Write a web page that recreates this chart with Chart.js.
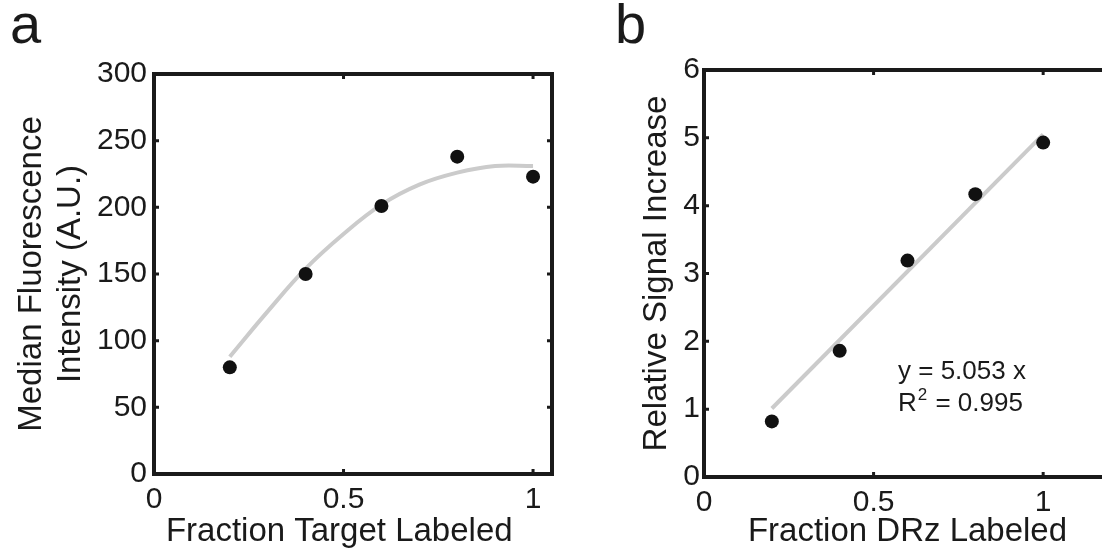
<!DOCTYPE html>
<html>
<head>
<meta charset="utf-8">
<script src="https://cdn.jsdelivr.net/npm/chart.js@4/dist/chart.umd.min.js"></script>
<style>
    html, body { margin: 0; padding: 0; background: #fff; overflow: hidden; }
    .panel { position: absolute; top: 0; }
</style>
</head>
<body>
<div class="panel" style="left:0px"><canvas id="chartA" width="570" height="550"></canvas></div>
<div class="panel" style="left:600px"><canvas id="chartB" width="520" height="550"></canvas></div>
<script>
// panel a
const fractionTarget = [0.2, 0.4, 0.6, 0.8, 1.0];
const medianIntensity = [80, 150, 201, 238, 223];
const fitTargetX = [0.2, 0.3, 0.4, 0.5, 0.6, 0.7, 0.8, 0.9, 1.0];
const fitTargetY = [88, 122, 154, 180, 202, 217, 226, 231, 231];
const xTicksA = [0, 0.5, 1];
const yTicksA = [0, 50, 100, 150, 200, 250, 300];

// panel b
const fractionDRz = [0.2, 0.4, 0.6, 0.8, 1.0];
const signalIncrease = [0.82, 1.86, 3.19, 4.17, 4.93];
const fitDRzX = [0.2, 1.0];
const fitDRzY = [1.01, 5.05];
const xTicksB = [0, 0.5, 1];
const yTicksB = [0, 1, 2, 3, 4, 5, 6];

const INK = "#1a1a1a";
const FONT = "'Liberation Sans', Arial, sans-serif";

const toXY = (xs, ys) => xs.map((x, i) => ({x: x, y: ys[i]}));

// box around the plot with small inward ticks on all four sides
const framePlugin = {
    id: "frame",
    afterDatasetsDraw(chart) {
        const {ctx, chartArea: a, scales} = chart;
        ctx.save();
        ctx.strokeStyle = INK;
        ctx.lineWidth = 3;
        scales.x.ticks.forEach(t => {
            const px = scales.x.getPixelForValue(t.value);
            ctx.beginPath();
            ctx.moveTo(px, a.bottom); ctx.lineTo(px, a.bottom - 5);
            ctx.moveTo(px, a.top); ctx.lineTo(px, a.top + 5);
            ctx.stroke();
        });
        scales.y.ticks.forEach(t => {
            const py = scales.y.getPixelForValue(t.value);
            ctx.beginPath();
            ctx.moveTo(a.left, py); ctx.lineTo(a.left + 5, py);
            ctx.moveTo(a.right, py); ctx.lineTo(a.right - 5, py);
            ctx.stroke();
        });
        ctx.lineWidth = 4;
        ctx.strokeRect(a.left, a.top, a.right - a.left, a.bottom - a.top);
        ctx.restore();
    }
};

const letterPlugin = {
    id: "letter",
    afterDraw(chart, args, opts) {
        const ctx = chart.ctx;
        ctx.save();
        ctx.fillStyle = INK;
        ctx.font = "56px " + FONT;
        ctx.textBaseline = "alphabetic";
        ctx.fillText(opts.text, opts.x, opts.y);
        ctx.restore();
    }
};

const fitNote = {
    id: "fitNote",
    afterDatasetsDraw(chart) {
        const {ctx, scales} = chart;
        const x = scales.x.getPixelForValue(0.572);
        const y1 = scales.y.getPixelForValue(1.45);
        const y2 = scales.y.getPixelForValue(0.98);
        ctx.save();
        ctx.fillStyle = INK;
        ctx.textBaseline = "alphabetic";
        ctx.font = "26px " + FONT;
        ctx.fillText("y = 5.053 x", x, y1);
        ctx.fillText("R", x, y2);
        const rw = ctx.measureText("R").width;
        ctx.font = "17px " + FONT;
        ctx.fillText("2", x + rw + 1, y2 - 11);
        const sw = ctx.measureText("2").width;
        ctx.font = "26px " + FONT;
        ctx.fillText(" = 0.995", x + rw + sw + 2, y2);
        ctx.restore();
    }
};

function fixedTicks(values) {
    return scale => { scale.ticks = values.map(v => ({value: v})); };
}

function makeScales(o) {
    return {
        x: {
            type: "linear",
            position: "bottom",
            min: 0,
            max: o.xMax,
            afterBuildTicks: fixedTicks(o.xTicks),
            afterFit: s => { s.height = o.xHeight; s.paddingLeft = 0; s.paddingRight = 0; },
            grid: { display: false, drawTicks: false },
            border: { display: false },
            ticks: {
                color: INK,
                padding: 8,
                maxRotation: 0,
                font: { family: FONT, size: 30 },
                callback: v => String(v)
            },
            title: {
                display: true,
                text: o.xTitle,
                color: INK,
                padding: { top: 0, bottom: -2 },
                font: { family: FONT, size: 33, lineHeight: 1.2 }
            }
        },
        y: {
            type: "linear",
            min: 0,
            max: o.yMax,
            afterBuildTicks: fixedTicks(o.yTicks),
            afterFit: s => { s.width = o.yWidth; s.paddingTop = 0; s.paddingBottom = 0; },
            grid: { display: false, drawTicks: false },
            border: { display: false },
            ticks: {
                color: INK,
                padding: o.yPad,
                font: { family: FONT, size: 30 },
                callback: v => String(v)
            },
            title: {
                display: true,
                text: o.yTitle,
                color: INK,
                padding: { top: o.yTitlePad, bottom: 0 },
                font: { family: FONT, size: 33, lineHeight: 1.2 }
            }
        }
    };
}

const baseOptions = {
    responsive: false,
    animation: false,
    plugins: {
        legend: { display: false },
        tooltip: { enabled: false }
    }
};

new Chart(document.getElementById("chartA"), {
    type: "scatter",
    data: {
        datasets: [{
            data: toXY(fitTargetX, fitTargetY),
            showLine: true,
            borderColor: "#cbcbcb",
            borderWidth: 4,
            pointRadius: 0,
            tension: 0.4,
            order: 2
        }, {
            data: toXY(fractionTarget, medianIntensity),
            pointRadius: 7,
            backgroundColor: "#111111",
            borderWidth: 0,
            order: 1
        }]
    },
    options: {
        ...baseOptions,
        layout: { padding: { top: 74, right: 18, left: 0, bottom: 0 } },
        scales: makeScales({
            xMax: 1.05, xTicks: xTicksA, xHeight: 76,
            yMax: 300, yTicks: yTicksA, yWidth: 154, yPad: 7, yTitlePad: 12,
            xTitle: "Fraction Target Labeled   ",
            yTitle: ["Median Fluorescence", "Intensity (A.U.)"]
        }),
        plugins: {
            ...baseOptions.plugins,
            letter: { text: "a", x: 10, y: 43 }
        }
    },
    plugins: [framePlugin, letterPlugin]
});

new Chart(document.getElementById("chartB"), {
    type: "scatter",
    data: {
        datasets: [{
            data: toXY(fitDRzX, fitDRzY),
            showLine: true,
            borderColor: "#cbcbcb",
            borderWidth: 4,
            pointRadius: 0,
            order: 2
        }, {
            data: toXY(fractionDRz, signalIncrease),
            pointRadius: 7,
            backgroundColor: "#111111",
            borderWidth: 0,
            order: 1
        }]
    },
    options: {
        ...baseOptions,
        layout: { padding: { top: 70, right: 9, left: 0, bottom: 0 } },
        scales: makeScales({
            xMax: 1.2, xTicks: xTicksB, xHeight: 73,
            yMax: 6, yTicks: yTicksB, yWidth: 104, yPad: 4, yTitlePad: 37,
            xTitle: "Fraction DRz Labeled",
            yTitle: "Relative Signal Increase"
        }),
        plugins: {
            ...baseOptions.plugins,
            letter: { text: "b", x: 15, y: 43 }
        }
    },
    plugins: [framePlugin, letterPlugin, fitNote]
});
</script>
</body>
</html>
